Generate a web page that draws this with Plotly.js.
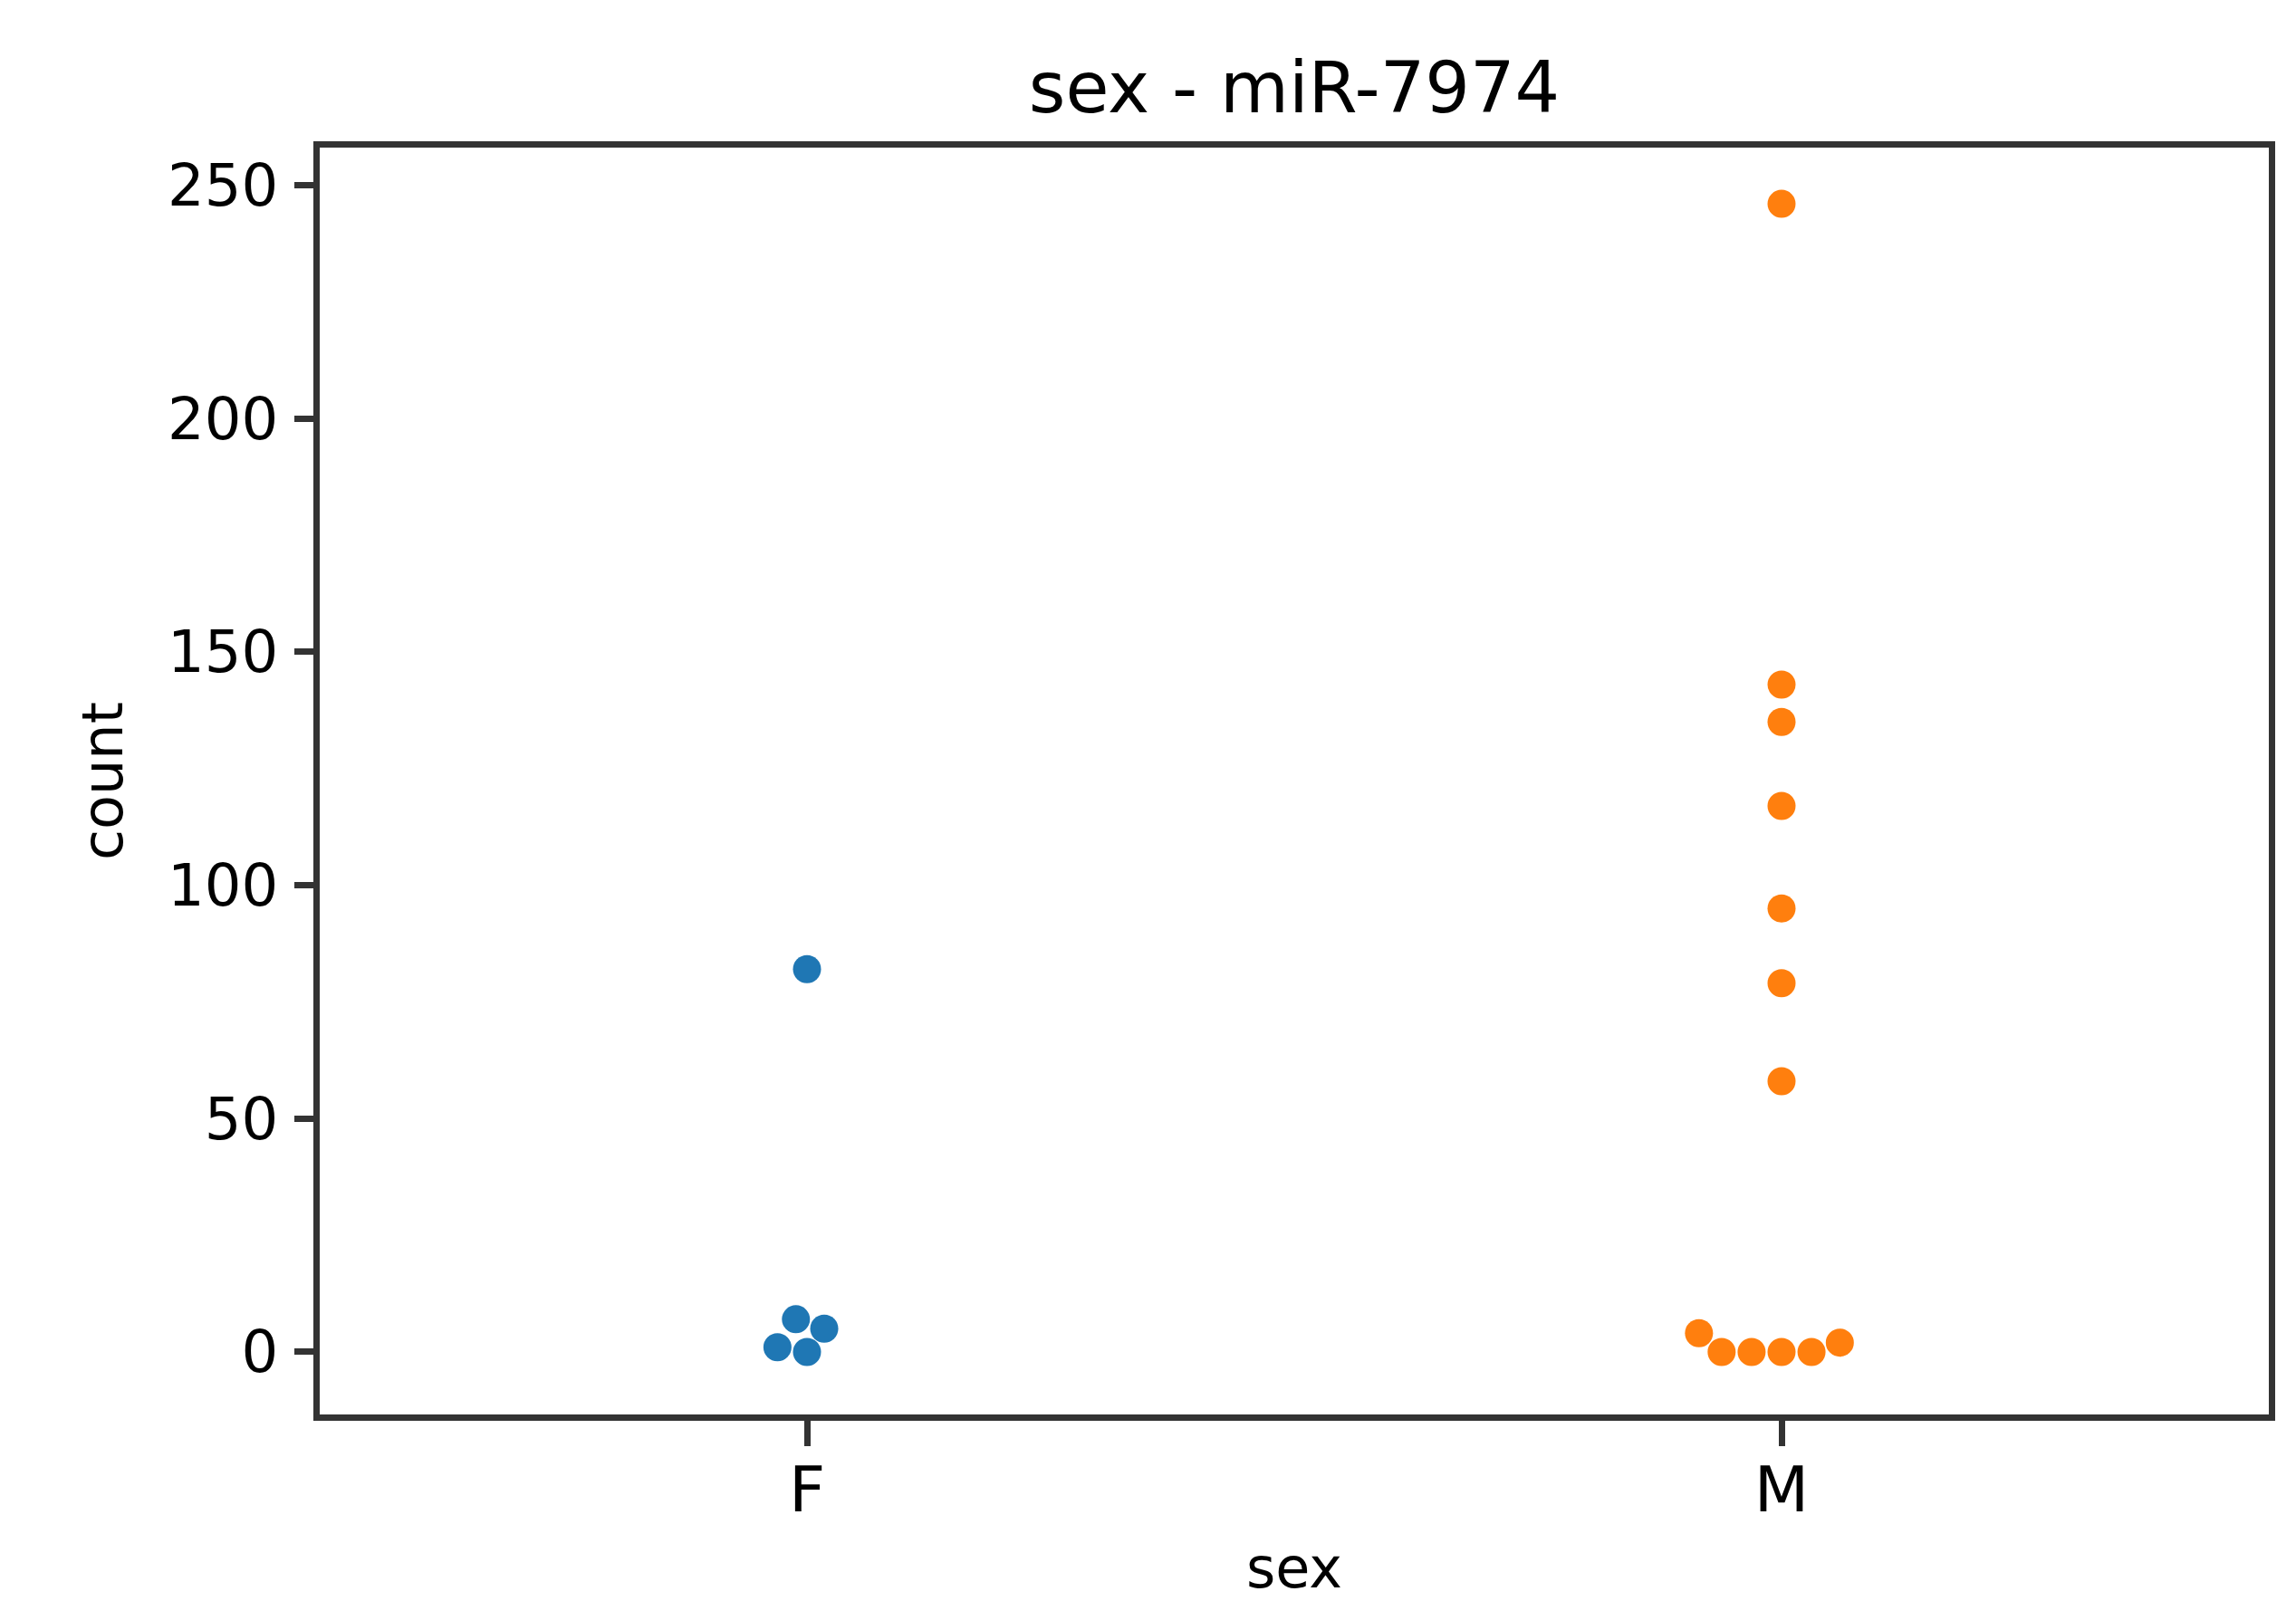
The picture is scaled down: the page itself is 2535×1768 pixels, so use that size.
<!DOCTYPE html>
<html>
<head>
<meta charset="utf-8">
<script src="https://cdn.plot.ly/plotly-3.0.1.min.js"></script>
<style>html,body{margin:0;padding:0;background:#fff;}#chart{width:2535px;height:1768px;}</style>
</head>
<body>
<div id="chart"></div>
<script>
// ---- data ----
const categories = ["F", "M"];
const countF = [82, 7, 5, 1, 0];
const countM = [246, 143, 135, 117, 95, 79, 58, 4, 2, 0, 0, 0, 0];
const seriesColors = ["#1f77b4", "#ff7f0e"];
const chartTitle = "sex - miR-7974";
const xLabel = "sex";
const yLabel = "count";
const yTicks = [0, 50, 100, 150, 200, 250];

// ---- layout geometry ----
const W = 2535, H = 1768;
const M = {l: 353, r: 30, t: 163, b: 206};
const xRange = [-0.5, 1.5];
const yRange = [-13.4, 258.05];
const plotW = W - M.l - M.r, plotH = H - M.t - M.b;
const pxPerX = plotW / (xRange[1] - xRange[0]);
const pxPerY = plotH / (yRange[1] - yRange[0]);
const markerD = 31.5;

// seaborn-style beeswarm: place each point (sorted by value) as close to
// the category centre as possible without overlapping earlier points
function swarm(values, centre) {
  const order = values.map((v, i) => i).sort((a, b) => values[a] - values[b]);
  const placed = [];
  const d = markerD;
  for (const i of order) {
    const y = values[i] * pxPerY;
    if (!placed.length) { placed.push({x: 0, y, i}); continue; }
    const neigh = [];
    for (let k = placed.length - 1; k >= 0; k--) {
      if (y - placed[k].y < d) neigh.unshift(placed[k]); else break;
    }
    const cands = [0];
    let leftFirst = true;
    for (const n of neigh) {
      const dy = y - n.y;
      const dx = Math.sqrt(Math.max(d * d - dy * dy, 0)) * 1.05;
      if (leftFirst) cands.push(n.x - dx, n.x + dx); else cands.push(n.x + dx, n.x - dx);
      leftFirst = !leftFirst;
    }
    const sorted = cands.map((c, j) => [c, j])
      .sort((a, b) => (Math.abs(a[0]) - Math.abs(b[0])) || (a[1] - b[1]))
      .map(a => a[0]);
    let chosen = sorted[0];
    if (neigh.length) {
      for (const c of sorted) {
        if (neigh.every(n => (n.x - c) ** 2 + (n.y - y) ** 2 >= d * d - 1e-6)) { chosen = c; break; }
      }
    }
    placed.push({x: chosen, y, i});
  }
  const out = new Array(values.length);
  for (const p of placed) out[p.i] = centre + p.x / pxPerX;
  return out;
}

const groups = [countF, countM];
const traces = groups.map((vals, gi) => ({
  type: "scatter",
  mode: "markers",
  x: swarm(vals, gi),
  y: vals,
  name: categories[gi],
  marker: {color: seriesColors[gi], size: 31, line: {width: 0}},
  hoverinfo: "y"
}));

const font = "DejaVu Sans, Liberation Sans, sans-serif";
const layout = {
  width: W, height: H,
  margin: M,
  paper_bgcolor: "#fff", plot_bgcolor: "#fff",
  showlegend: false,
  font: {family: font, color: "#000"},
  title: {
    text: chartTitle,
    font: {family: font, size: 78, color: "#000"},
    x: (M.l + plotW / 2) / W, xanchor: "center",
    y: 1 - 97 / H, yanchor: "middle"
  },
  xaxis: {
    range: xRange,
    tickmode: "array",
    tickvals: categories.map((c, i) => i),
    ticktext: categories,
    showgrid: false, zeroline: false,
    showline: true, mirror: true, linecolor: "#333", linewidth: 7,
    ticks: "outside", ticklen: 28, tickwidth: 7, tickcolor: "#333",
    ticklabelstandoff: -12,
    tickfont: {family: font, size: 70, color: "#000"},
    title: {text: xLabel, font: {family: font, size: 62, color: "#000"}, standoff: 42}
  },
  yaxis: {
    range: yRange,
    tickmode: "array",
    tickvals: yTicks,
    showgrid: false, zeroline: false,
    showline: true, mirror: true, linecolor: "#333", linewidth: 7,
    ticks: "outside", ticklen: 21, tickwidth: 7, tickcolor: "#333",
    ticklabelstandoff: 5,
    tickfont: {family: font, size: 64, color: "#000"},
    title: {text: yLabel, font: {family: font, size: 62, color: "#000"}, standoff: 32}
  }
};

Plotly.newPlot("chart", traces, layout, {staticPlot: true, displayModeBar: false});
</script>
</body>
</html>
